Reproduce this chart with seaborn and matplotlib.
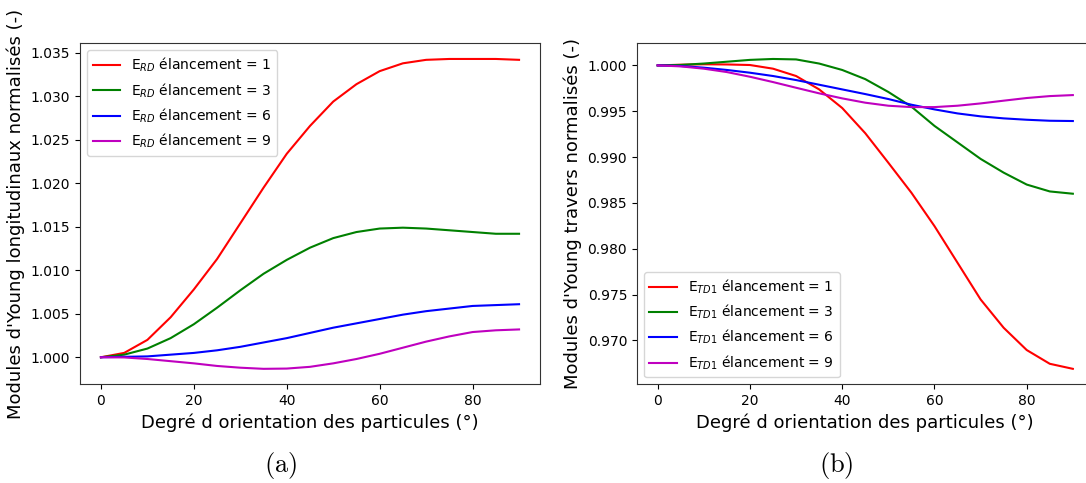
import numpy as np
import pandas as pd
import matplotlib
matplotlib.use("Agg")
import matplotlib.pyplot as plt
import seaborn as sns

angles = [0, 5, 10, 15, 20, 25, 30, 35, 40, 45, 50, 55, 60, 65, 70, 75, 80, 85, 90]

# (a) longitudinal normalised Young's moduli
rd_e1 = [1.0000, 1.0005, 1.0020, 1.0046, 1.0078, 1.0113, 1.0154, 1.0195, 1.0234, 1.0266,
         1.0294, 1.0314, 1.0329, 1.0338, 1.0342, 1.0343, 1.0343, 1.0343, 1.0342]
rd_e3 = [1.0000, 1.0003, 1.0010, 1.0022, 1.0038, 1.0057, 1.0077, 1.0096, 1.0112, 1.0126,
         1.0137, 1.0144, 1.0148, 1.0149, 1.0148, 1.0146, 1.0144, 1.0142, 1.0142]
rd_e6 = [1.0000, 1.00005, 1.0001, 1.0003, 1.0005, 1.0008, 1.0012, 1.0017, 1.0022, 1.0028,
         1.0034, 1.0039, 1.0044, 1.0049, 1.0053, 1.0056, 1.0059, 1.0060, 1.0061]
rd_e9 = [1.0000, 0.99998, 0.9998, 0.99955, 0.9993, 0.9990, 0.9988, 0.99867, 0.99870, 0.9989,
         0.9993, 0.9998, 1.0004, 1.0011, 1.0018, 1.0024, 1.0029, 1.0031, 1.0032]

# (b) transverse normalised Young's moduli
td_e1 = [1.0000, 1.00007, 1.00012, 1.0001, 1.00004, 0.99964, 0.99884, 0.99738, 0.99535, 0.99260,
         0.98938, 0.98611, 0.98247, 0.97847, 0.97447, 0.97138, 0.96895, 0.96745, 0.96690]
td_e3 = [1.0000, 1.00005, 1.0002, 1.0004, 1.0006, 1.0007, 1.00065, 1.0002, 0.9995, 0.9985,
         0.9971, 0.9955, 0.9934, 0.9916, 0.9898, 0.9883, 0.9870, 0.98625, 0.9860]
td_e6 = [1.0000, 0.99993, 0.99975, 0.9995, 0.9992, 0.99884, 0.9984, 0.99789, 0.99738, 0.99687,
         0.99633, 0.99571, 0.9952, 0.99476, 0.99444, 0.99422, 0.99407, 0.99396, 0.99393]
td_e9 = [1.0000, 0.99989, 0.99964, 0.99927, 0.99876, 0.99818, 0.99756, 0.99695, 0.9964, 0.99593,
         0.9956, 0.99545, 0.99545, 0.9956, 0.99585, 0.99615, 0.99644, 0.99665, 0.99676]

rd_labels = [r"E$_{RD}$ élancement = 1", r"E$_{RD}$ élancement = 3",
             r"E$_{RD}$ élancement = 6", r"E$_{RD}$ élancement = 9"]
td_labels = [r"E$_{TD1}$ élancement = 1", r"E$_{TD1}$ élancement = 3",
             r"E$_{TD1}$ élancement = 6", r"E$_{TD1}$ élancement = 9"]
colors = ["#ff0000", "#008000", "#0000ff", "#bf00bf"]

xlabel = "Degré d orientation des particules (°)"
ylabel_a = "Modules d'Young longitudinaux normalisés (-)"
ylabel_b = "Modules d'Young travers normalisés (-)"


def long_df(series, labels):
    rows = []
    for s, lab in zip(series, labels):
        for a, v in zip(angles, s):
            rows.append({"angle": a, "value": v, "serie": lab})
    return pd.DataFrame(rows)


df_a = long_df([rd_e1, rd_e3, rd_e6, rd_e9], rd_labels)
df_b = long_df([td_e1, td_e3, td_e6, td_e9], td_labels)

plt.rcParams["font.family"] = ["DejaVu Sans"]

fig = plt.figure(figsize=(10.86, 4.83), dpi=100)
ax1 = fig.add_axes([0.0737, 0.2043, 0.4235, 0.7057])
ax2 = fig.add_axes([0.5865, 0.2043, 0.4205, 0.7057])

sns.lineplot(data=df_a, x="angle", y="value", hue="serie", hue_order=rd_labels,
             palette=colors, ax=ax1, linewidth=1.5)
sns.lineplot(data=df_b, x="angle", y="value", hue="serie", hue_order=td_labels,
             palette=colors, ax=ax2, linewidth=1.5)

for ax, yl, loc in [(ax1, ylabel_a, "upper left"), (ax2, ylabel_b, "lower left")]:
    ax.set_xlabel(xlabel, fontsize=13)
    ax.set_ylabel(yl, fontsize=13)
    ax.set_xticks([0, 20, 40, 60, 80])
    ax.tick_params(labelsize=10)
    ax.yaxis.set_major_formatter(matplotlib.ticker.FormatStrFormatter("%.3f"))
    ax.legend(loc=loc, fontsize=10, title=None)
    for sp in ax.spines.values():
        sp.set_color("#333333")

ax1.set_yticks([1.000, 1.005, 1.010, 1.015, 1.020, 1.025, 1.030, 1.035])
ax2.set_yticks([0.970, 0.975, 0.980, 0.985, 0.990, 0.995, 1.000])
ax1.margins(y=0.05)
ax2.margins(y=0.05)

fig.text(0.258, 0.037, r"$\mathrm{(a)}$", math_fontfamily="cm", fontsize=19,
         ha="center", va="center")
fig.text(0.770, 0.037, r"$\mathrm{(b)}$", math_fontfamily="cm", fontsize=19,
         ha="center", va="center")

fig.savefig("out.png", dpi=100)
